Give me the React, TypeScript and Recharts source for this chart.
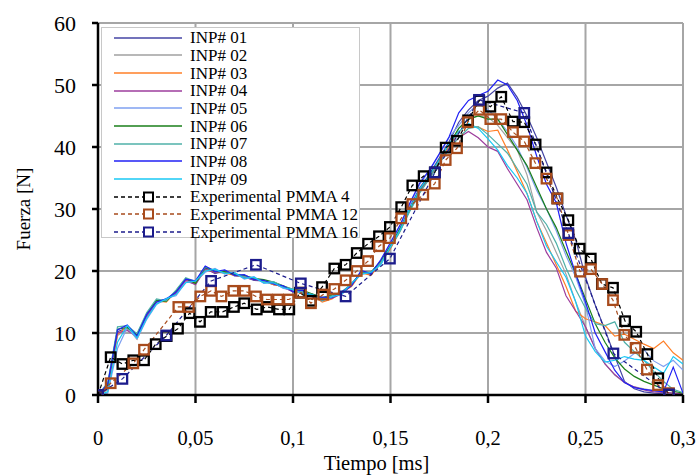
import React from 'react';
import { ComposedChart, Line, XAxis, YAxis, CartesianGrid } from 'recharts';

// simulation time base [ms]
const tiempo = [
  0, 0.005, 0.01, 0.015, 0.02, 0.025, 0.03, 0.035, 0.04, 0.045,
  0.05, 0.055, 0.06, 0.065, 0.07, 0.075, 0.08, 0.085, 0.09, 0.095,
  0.1, 0.105, 0.11, 0.115, 0.12, 0.125, 0.13, 0.135, 0.14, 0.145,
  0.15, 0.155, 0.16, 0.165, 0.17, 0.175, 0.18, 0.185, 0.19, 0.195,
  0.2, 0.205, 0.21, 0.215, 0.22, 0.225, 0.23, 0.235, 0.24, 0.245,
  0.25, 0.255, 0.26, 0.265, 0.27, 0.275, 0.28, 0.285, 0.29, 0.295, 0.3,
];

const inp01 = [
  0, 1.2, 10.2, 10.8, 9.3, 12.6, 15.1, 15.4, 16.3, 18.6,
  18.2, 20.5, 19.6, 20.1, 19.2, 19.1, 18.5, 18.4, 17.8, 17.5,
  16.6, 16.8, 15.9, 15.6, 15.7, 16.4, 17.6, 19.9, 19.4, 21.6,
  24.2, 27.0, 30.4, 33.4, 35.6, 38.2, 40.8, 44, 46, 47.5,
  48.2, 49.5, 50.3, 48, 45, 41.5, 37.5, 33.5, 29, 25,
  19, 14.5, 10.5, 6.3, 2.2, 1.0, 0.5, 0.3, 0.2, 0.1, 0,
];
const inp02 = [
  0, 0.8, 9.6, 10.6, 9.6, 12.9, 14.8, 15.2, 16.6, 18.3,
  17.9, 20.2, 19.9, 19.6, 19.5, 18.9, 18.9, 18.2, 18.1, 17.3,
  16.9, 16.5, 16.1, 15.3, 15.9, 16.6, 17.9, 19.6, 19.7, 21.3,
  23.9, 26.7, 29.8, 32.9, 35.2, 37.6, 40.1, 43, 44.5, 45,
  44.8, 43.5, 41.5, 39.5, 35.5, 29.5, 26.5, 23, 19.5, 15,
  11, 7.5, 5, 3.2, 2, 1.3, 1.0, 0.7, 0.5, 0.3, 0.2,
];
const inp03 = [
  0, 1.0, 9.8, 11.0, 9.0, 12.5, 15.2, 15.0, 16.7, 18.4,
  18.1, 20.0, 20.0, 19.7, 19.3, 19.2, 18.6, 18.4, 17.8, 17.5,
  16.8, 16.3, 16.1, 15.0, 15.5, 16.6, 17.5, 19.7, 19.3, 21.2,
  23.6, 26.5, 30.0, 32.7, 35.1, 37.7, 40.0, 42.5, 43.5, 43.2,
  42.5, 42.7, 39.5, 36, 32.5, 28, 24.5, 21, 17.5, 13.5,
  12.3, 11.8, 11.2, 9.5, 9.8, 9, 8.2, 7.5, 8.7, 6.8, 5.6,
];
const inp04 = [
  0, 1.3, 10.0, 10.4, 9.4, 12.7, 15.0, 15.3, 16.4, 18.5,
  17.8, 20.3, 19.7, 19.8, 19.6, 18.9, 18.7, 18.4, 18.0, 17.3,
  16.7, 16.6, 15.8, 15.4, 15.6, 16.3, 17.7, 19.8, 19.5, 21.4,
  23.8, 26.6, 29.9, 32.8, 35.0, 37.4, 39.8, 41.5, 42.5, 41.5,
  40, 39.3, 36.5, 34, 31.5, 27, 23, 20.5, 16, 13.5,
  11, 7.5, 5, 3.3, 2, 1.3, 0.8, 0.5, 0.4, 0.3, 0.2,
];
const inp05 = [
  0, 0.3, 7.5, 10.9, 9.0, 12.2, 14.6, 15.6, 16.0, 18.2,
  18.3, 19.8, 20.4, 19.5, 19.8, 18.7, 19.1, 18.0, 18.2, 17.2,
  17.0, 16.3, 16.3, 15.2, 16.0, 16.2, 18.1, 19.4, 19.9, 21.1,
  24.4, 27.3, 30.8, 34.0, 36.2, 38.8, 41.5, 43.5, 45.5, 47,
  46, 44.5, 42.5, 40, 36.7, 33, 30, 26.5, 22.5, 19,
  14.5, 7.5, 5.5, 4.6, 5.5, 6.7, 7.3, 5.5, 4.6, 5.6, 4.0,
];
const inp06 = [
  0, 1.6, 10.6, 10.9, 9.7, 13.1, 15.3, 15.1, 16.8, 18.8,
  18.0, 20.6, 19.9, 19.9, 19.4, 19.3, 18.8, 18.6, 18.2, 17.6,
  17.0, 16.9, 16.3, 15.7, 16.1, 16.5, 17.9, 19.8, 19.8, 21.6,
  24.0, 26.9, 30.0, 33.1, 35.4, 37.9, 40.4, 43, 44.5, 45,
  44.5, 44.5, 42, 39.5, 37, 33.5, 30, 27, 23.2, 19.5,
  15.5, 11.5, 8.5, 6, 4.2, 3, 2.2, 1.6, 1, 0.6, 0.3,
];
const inp07 = [
  0, 2.0, 11.0, 11.2, 9.9, 13.3, 15.5, 15.2, 16.9, 18.9,
  18.3, 20.7, 20.1, 19.7, 19.6, 19.1, 18.9, 18.3, 18.3, 17.5,
  17.1, 16.6, 16.2, 15.6, 16.0, 16.7, 17.8, 19.7, 19.6, 21.4,
  23.8, 26.4, 29.7, 32.6, 34.9, 37.3, 39.6, 41.5, 43, 43.3,
  42, 40.5, 39, 36.5, 34, 29.5, 27.5, 24.5, 20.5, 17,
  14, 11.5, 11.2, 11.8, 8.5, 7, 5.6, 3.8, 2.2, 0.9, 0.4,
];
const inp08 = [
  0, 1.8, 10.5, 11.3, 9.5, 13.0, 15.0, 15.5, 16.6, 18.7,
  18.4, 20.8, 19.9, 20.2, 19.3, 19.4, 18.6, 18.5, 17.9, 17.6,
  16.7, 16.9, 15.8, 15.8, 15.7, 16.6, 17.6, 20.1, 19.6, 21.8,
  24.6, 27.5, 31.0, 34.2, 36.3, 38.9, 41.6, 45.5, 47.5, 48.3,
  49, 50.8, 50, 47.5, 43.5, 38.5, 34, 31, 24.5, 19.5,
  15, 10, 7, 4, 2, 1.2, 0.9, 0.7, 0.5, 4.5, 0.3,
];
const inp09 = [
  0, 0.5, 8.5, 11.2, 9.2, 12.4, 14.7, 15.5, 16.2, 18.1,
  18.4, 20.0, 20.3, 19.6, 19.7, 18.8, 19.0, 18.1, 18.1, 17.3,
  17.0, 16.3, 16.2, 15.2, 15.8, 16.3, 18.0, 19.5, 19.8, 21.0,
  23.9, 26.7, 30.2, 33.2, 35.4, 37.9, 40.5, 42.5, 43.8, 43,
  41.3, 39.5, 37, 35, 32.5, 28, 24, 21.5, 19, 15,
  9.5, 7, 5.3, 5.6, 6.2, 5.8, 5.6, 4.5, 3.5, 6.2, 5,
];

// experimental curves
const tPmma4 = [
  0, 0.0065, 0.0125, 0.0181, 0.0236, 0.0296, 0.0352, 0.041, 0.047, 0.0523,
  0.0578, 0.0639, 0.0697, 0.075, 0.0814, 0.087, 0.0928, 0.0981, 0.1036, 0.1092,
  0.1149, 0.1212, 0.127, 0.1327, 0.1385, 0.1441, 0.1497, 0.1555, 0.1612, 0.167,
  0.1727, 0.1783, 0.1841, 0.1898, 0.1955, 0.2012, 0.2068, 0.2128, 0.2186, 0.2244,
  0.23, 0.2356, 0.2412, 0.247, 0.2527, 0.2584, 0.2641, 0.2703, 0.276, 0.2817,
  0.2873, 0.2928,
];
const fPmma4 = [
  0, 6.1, 5.0, 5.6, 5.6, 8.2, 9.5, 10.7, 13.2, 11.8,
  13.4, 13.4, 14.2, 14.8, 13.8, 14.2, 13.8, 13.8, 16.5, 15.2,
  17.4, 20.4, 21.0, 22.9, 24.4, 25.6, 27.1, 30.3, 33.8, 35.3,
  35.9, 39.9, 41.0, 44.3, 47.5, 46.5, 48.1, 44.1, 44.0, 40.4,
  35.9, 31.7, 28.2, 23.6, 22.0, 17.9, 17.3, 11.9, 10.2, 6.6,
  2.7, 0.1,
];
const tPmma12 = [
  0, 0.0065, 0.0181, 0.0236, 0.0412, 0.0466, 0.0525, 0.058, 0.0633, 0.0694,
  0.0752, 0.081, 0.0866, 0.0923, 0.0979, 0.1041, 0.1092, 0.1155, 0.1212, 0.127,
  0.1327, 0.1385, 0.1441, 0.1497, 0.1555, 0.1612, 0.1668, 0.1727, 0.1783, 0.1841,
  0.1896, 0.1955, 0.2012, 0.2068, 0.2128, 0.2186, 0.2243, 0.23, 0.2355, 0.2413,
  0.2472, 0.2528, 0.2586, 0.2641, 0.2699, 0.2757, 0.2815, 0.2872, 0.2928,
];
const fPmma12 = [
  0, 1.9, 5.1, 7.3, 14.2, 14.2, 15.9, 16.8, 15.9, 16.8,
  16.8, 15.9, 15.4, 15.4, 15.4, 16.5, 14.8, 16.2, 17.1, 18.5,
  20.0, 21.6, 24.0, 25.3, 28.5, 30.8, 32.3, 34.1, 37.9, 39.8,
  44.0, 46.0, 44.5, 44.5, 42.4, 40.9, 37.4, 34.9, 31.7, 25.8,
  19.9, 20.3, 17.9, 15.3, 9.7, 7.6, 4.1, 1.6, 0.3,
];
const tPmma16 = [0, 0.0125, 0.035, 0.058, 0.081, 0.104, 0.127, 0.1497, 0.1728, 0.1954, 0.2186, 0.2412, 0.2643, 0.2928];
const fPmma16 = [0, 2.6, 9.6, 18.4, 21.0, 18.0, 15.9, 22.0, 35.9, 47.6, 45.5, 26.1, 6.7, 0.1];

const xTicks = [0, 0.05, 0.1, 0.15, 0.2, 0.25, 0.3];
const yTicks = [0, 10, 20, 30, 40, 50, 60];

const simSeries = [
  { name: 'INP# 01', values: inp01, color: '#4444a4' },
  { name: 'INP# 02', values: inp02, color: '#a0a0a0' },
  { name: 'INP# 03', values: inp03, color: '#ff7f27' },
  { name: 'INP# 04', values: inp04, color: '#9c3c9c' },
  { name: 'INP# 05', values: inp05, color: '#7fa0f0' },
  { name: 'INP# 06', values: inp06, color: '#1a7f1a' },
  { name: 'INP# 07', values: inp07, color: '#4fb0a8' },
  { name: 'INP# 08', values: inp08, color: '#2020f5' },
  { name: 'INP# 09', values: inp09, color: '#18c8f4' },
];

const expSeries = [
  { name: 'Experimental PMMA 4', t: tPmma4, f: fPmma4, color: '#000000' },
  { name: 'Experimental PMMA 12', t: tPmma12, f: fPmma12, color: '#a84b1c' },
  { name: 'Experimental PMMA 16', t: tPmma16, f: fPmma16, color: '#1c1c8c' },
];

const serif = '"Liberation Serif", "Times New Roman", serif';

function Square(props: any) {
  const { cx, cy, stroke, index } = props;
  if (cx == null || cy == null) return <g key={index} />;
  return (
    <rect key={index} x={cx - 4.75} y={cy - 4.75} width={9.5} height={9.5}
      fill="none" stroke={stroke} strokeWidth={2.3} />
  );
}

function LegendBox() {
  const rows = [
    ...simSeries.map(s => ({ name: s.name, color: s.color, exp: false })),
    ...expSeries.map(s => ({ name: s.name, color: s.color, exp: true })),
  ];
  return (
    <div style={{
      position: 'absolute', left: 101, top: 27, width: 259, height: 211,
      background: '#fff', border: '1px solid #c8c8c8', boxSizing: 'border-box',
      fontFamily: serif, fontSize: 17, color: '#000', paddingTop: 1,
    }}>
      {rows.map(r => (
        <div key={r.name} style={{ height: 17.66, display: 'flex', alignItems: 'center' }}>
          <svg width={88} height={14} style={{ flex: 'none' }}>
            <line x1={12} x2={80} y1={7} y2={7} stroke={r.color}
              strokeWidth={r.exp ? 1.3 : 1.6} strokeDasharray={r.exp ? '4 3' : undefined} />
            {r.exp && (
              <rect x={42} y={2.5} width={9} height={9} fill="#fff" stroke={r.color} strokeWidth={2} />
            )}
          </svg>
          <span style={{ whiteSpace: 'nowrap', lineHeight: '17px' }}>{r.name}</span>
        </div>
      ))}
    </div>
  );
}

export default function App() {
  const simData = simSeries.map(s => tiempo.map((t, i) => ({ t, v: s.values[i] })));
  const expData = expSeries.map(s => s.t.map((t, i) => ({ t, v: s.f[i] })));

  return (
    <div style={{ position: 'absolute', left: 0, top: 0, width: 698, height: 475, background: '#fff' }}>
      <ComposedChart width={698} height={475} margin={{ top: 23, right: 15, bottom: 0, left: 0 }}>
        <CartesianGrid stroke="#a6a6a6" strokeWidth={2} />
        <XAxis
          dataKey="t" type="number" domain={[0, 0.3]} ticks={xTicks} allowDataOverflow
          height={80} tickSize={8} tickMargin={27}
          stroke="#000" strokeWidth={2.5}
          tick={{ fill: '#000', fontFamily: serif, fontSize: 20.5 }}
          tickFormatter={(v: number) => String(v).replace('.', ',')}
          label={{ value: 'Tiempo [ms]', position: 'insideBottom', offset: 5, dx: -14, fill: '#000', fontFamily: serif, fontSize: 20.5 }}
        />
        <YAxis
          type="number" domain={[0, 60]} ticks={yTicks} allowDataOverflow
          width={98} tickSize={6} tickMargin={16}
          stroke="#000" strokeWidth={2.5}
          tick={{ fill: '#000', fontFamily: serif, fontSize: 22 }}
          label={{ value: 'Fuerza [N]', angle: -90, position: 'insideLeft', offset: 23, fill: '#000', fontFamily: serif, fontSize: 19, style: { textAnchor: 'middle' } }}
        />
        {simSeries.map((s, k) => (
          <Line key={s.name} data={simData[k]} dataKey="v" name={s.name} type="linear"
            stroke={s.color} strokeWidth={1.2} dot={false} activeDot={false}
            isAnimationActive={false} />
        ))}
        {expSeries.map((s, k) => (
          <Line key={s.name} data={expData[k]} dataKey="v" name={s.name} type="linear"
            stroke={s.color} strokeWidth={1.2} strokeDasharray="4 3"
            dot={(p: any) => <Square {...p} stroke={s.color} key={`${s.name}-${p.index}`} />}
            activeDot={false} isAnimationActive={false} />
        ))}
      </ComposedChart>
      <LegendBox />
    </div>
  );
}
